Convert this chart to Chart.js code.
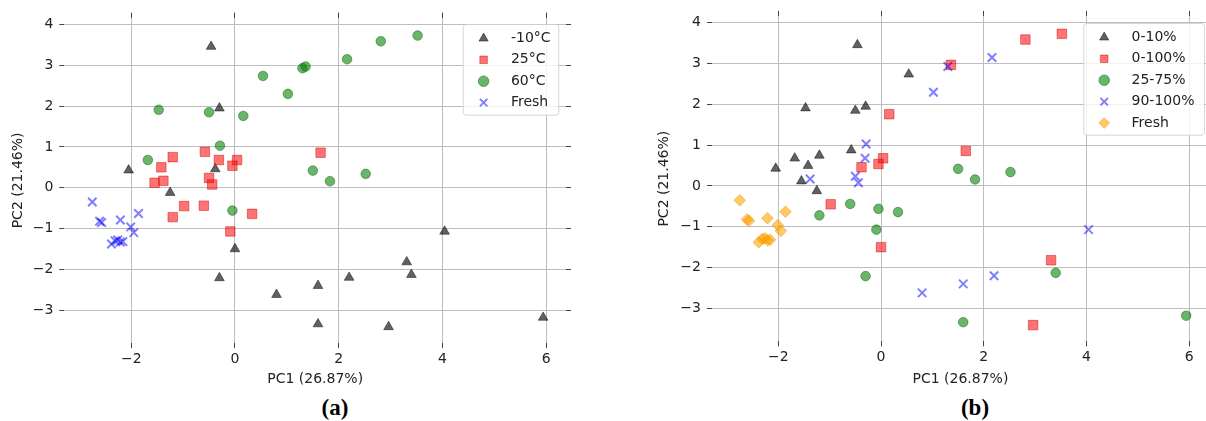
<!DOCTYPE html>
<html>
<head>
<meta charset="utf-8">
<script src="https://cdn.jsdelivr.net/npm/chart.js@4.4.1/dist/chart.umd.min.js"></script>
<style>
  html, body { margin: 0; padding: 0; background: #fff; }
  body { width: 1206px; height: 421px; position: relative; overflow: hidden; }
  .panel { position: absolute; top: 0; width: 600px; height: 395px; }
  .caption { position: absolute; top: 395px; width: 80px; text-align: center; font: bold 23px "Liberation Serif", serif; color: #000; }
</style>
</head>
<body>
<div class="panel" style="left:0"><canvas id="chartA" width="600" height="395"></canvas></div>
<div class="panel" style="left:646px"><canvas id="chartB" width="600" height="395"></canvas></div>
<div class="caption" style="left:295px">(a)</div>
<div class="caption" style="left:935px">(b)</div>
<script>
// PCA scores of the 60 samples (same points in both panels)
const pc1 = [
  -0.46, -0.30, -2.05, -0.38, -1.25, 0.00, -0.30, 0.80, 4.04, 3.31, 3.40, 2.20, 1.60, 1.60, 2.96, 5.94,
  -1.20, -1.42, -0.58, -0.31, 0.04, -0.05, -0.50, -0.44, -1.55, -1.38, 1.65, -1.20, -0.98, -0.60, -0.09, 0.33,
  0.54, 1.02, -1.47, -0.50, 0.16, -0.29, -1.68, 3.52, 2.81, 2.16, 1.30, 1.36, 1.50, 1.83, 2.52, -0.05,
  -2.75, -2.61, -2.57, -2.21, -1.86, -2.01, -1.95, -2.38, -2.31, -2.26, -2.21, -2.16
];
const pc2 = [
  3.46, 1.95, 0.43, 0.46, -0.12, -1.50, -2.21, -2.62, -1.07, -1.82, -2.13, -2.20, -2.40, -3.34, -3.41, -3.18,
  0.75, 0.50, 0.88, 0.68, 0.68, 0.54, 0.24, 0.08, 0.12, 0.17, 0.86, -0.72, -0.45, -0.44, -1.07, -0.64,
  2.74, 2.30, 1.91, 1.85, 1.76, 1.03, 0.68, 3.73, 3.59, 3.15, 2.93, 2.97, 0.42, 0.16, 0.34, -0.56,
  -0.35, -0.82, -0.85, -0.79, -0.63, -0.96, -1.10, -1.38, -1.30, -1.28, -1.33, -1.32
];
// group of each sample: panel (a) storage temperature, panel (b) humidity range
const tempGroup = [
  0, 0, 0, 0, 0, 0, 0, 0, 0, 0, 0, 0, 0, 0, 0, 0,
  1, 1, 1, 1, 1, 1, 1, 1, 1, 1, 1, 1, 1, 1, 1, 1,
  2, 2, 2, 2, 2, 2, 2, 2, 2, 2, 2, 2, 2, 2, 2, 2,
  3, 3, 3, 3, 3, 3, 3, 3, 3, 3, 3, 3
];
const humidityGroup = [
  0, 0, 0, 1, 0, 1, 2, 3, 3, 1, 2, 3, 3, 2, 1, 2,
  0, 0, 0, 3, 1, 1, 3, 3, 0, 3, 1, 2, 1, 2, 2, 2,
  0, 3, 0, 0, 1, 3, 0, 1, 1, 3, 3, 1, 2, 2, 2, 2,
  4, 4, 4, 4, 4, 4, 4, 4, 4, 4, 4, 4
];
const tempLabels = ['-10°C', '25°C', '60°C', 'Fresh'];
const humidityLabels = ['0-10%', '0-100%', '25-75%', '90-100%', 'Fresh'];
const xTicks = [-2, 0, 2, 4, 6];
const yTicks = [-3, -2, -1, 0, 1, 2, 3, 4];
const xRange = [-3.29, 6.38];
const yRange = [-3.81, 4.17];

const font = { family: 'DejaVu Sans', size: 14 };
Chart.defaults.font.family = 'DejaVu Sans';

const markers = {
  triangle: { pointStyle: 'triangle', pointRadius: 5.6, backgroundColor: 'rgba(0,0,0,0.62)', borderColor: 'rgba(0,0,0,0.45)', borderWidth: 1 },
  square: { pointStyle: 'rect', pointRadius: 6.7, backgroundColor: 'rgba(255,0,0,0.55)', borderColor: 'rgba(200,0,0,0.45)', borderWidth: 1 },
  circle: { pointStyle: 'circle', pointRadius: 4.8, backgroundColor: 'rgba(0,128,0,0.58)', borderColor: 'rgba(0,90,0,0.45)', borderWidth: 1 },
  cross: { pointStyle: 'crossRot', pointRadius: 6, backgroundColor: 'rgba(0,0,255,0.5)', borderColor: 'rgba(0,0,255,0.5)', borderWidth: 2 },
  diamond: { pointStyle: 'rectRot', pointRadius: 5.8, backgroundColor: 'rgba(255,165,0,0.6)', borderColor: 'rgba(230,140,0,0.45)', borderWidth: 1 }
};

const tickLabel = v => (v < 0 ? '\u2212' + Math.abs(v) : String(v));

// move the legend inside the axes and give it a matplotlib-like frame
const legendFrame = {
  id: 'legendFrame',
  afterLayout(chart, args, opts) {
    const lg = chart.legend;
    lg.left = opts.x + 6.5;
    lg.top = opts.y;
    lg.right = opts.x + opts.w;
    lg.bottom = opts.y + 200;
    if (!lg._framed) {
      const draw = lg.draw.bind(lg);
      lg.draw = function () {
        const f = chart.options.plugins.legendFrame;
        const ctx = chart.ctx;
        ctx.save();
        ctx.beginPath();
        ctx.roundRect(f.x + 0.5, f.y + 0.5, f.w, f.h, 3);
        ctx.fillStyle = 'rgba(255,255,255,0.8)';
        ctx.fill();
        ctx.strokeStyle = 'rgba(204,204,204,0.8)';
        ctx.lineWidth = 1;
        ctx.stroke();
        ctx.restore();
        draw();
      };
      lg._framed = true;
    }
  }
};

function buildDatasets(groupOf, labels, styles) {
  return labels.map((label, g) => ({
    label,
    data: pc1.map((x, i) => ({ x, y: pc2[i] })).filter((p, i) => groupOf[i] === g),
    order: labels.length - g,
    xAxisID: 'x',
    yAxisID: 'y',
    ...styles[g]
  }));
}

function axis(pos, values, range, size, main, extra) {
  const horizontal = pos === 'top' || pos === 'bottom';
  return {
    type: 'linear',
    position: pos,
    min: range[0],
    max: range[1],
    afterBuildTicks: s => { s.ticks = values.map(v => ({ value: v })); },
    afterFit: s => { if (horizontal) s.height = size; else s.width = size; },
    border: { display: false },
    grid: { drawOnChartArea: main, color: '#bdbdbd', lineWidth: 1, tickColor: '#444', tickLength: 5, tickWidth: 1 },
    ticks: { display: main, font, color: '#222', padding: horizontal ? 3 : 6, callback: tickLabel },
    ...extra
  };
}

function makeChart(id, groupOf, labels, styles, g) {
  new Chart(document.getElementById(id), {
    type: 'scatter',
    data: { datasets: buildDatasets(groupOf, labels, styles) },
    plugins: [legendFrame],
    options: {
      responsive: false,
      animation: false,
      layout: { padding: 0 },
      scales: {
        x: axis('bottom', xTicks, xRange, g.bottom, true, {
          title: { display: true, text: 'PC1 (26.87%)', font, color: '#222', padding: { top: 0, bottom: 7.6 } }
        }),
        y: axis('left', yTicks, yRange, g.left, true, {
          title: { display: true, text: 'PC2 (21.46%)', font, color: '#222', padding: { top: 9.6, bottom: 0 } }
        }),
        x2: axis('top', xTicks, xRange, g.top, false),
        y2: axis('right', yTicks, yRange, g.right, false)
      },
      plugins: {
        tooltip: { enabled: false },
        legendFrame: g.legend,
        legend: {
          position: 'chartArea',
          align: 'start',
          labels: {
            usePointStyle: true,
            boxWidth: 14,
            boxHeight: 7.5,
            padding: 7.4,
            font,
            color: '#222',
            sort: (a, b) => a.datasetIndex - b.datasetIndex,
            generateLabels: chart => Chart.defaults.plugins.legend.labels.generateLabels(chart)
              .map(item => ({ ...item, text: '   ' + item.text }))
          }
        }
      }
    }
  });
}

makeChart('chartA', tempGroup, tempLabels,
  [markers.triangle, markers.square, markers.circle, markers.cross],
  { left: 64.3, right: 34, top: 17.6, bottom: 51.8, legend: { x: 462.7, y: 24, w: 95.6, h: 90.7 } });

makeChart('chartB', humidityGroup, humidityLabels,
  [markers.triangle, markers.square, markers.circle, markers.cross, markers.diamond],
  { left: 66, right: 37.2, top: 15.9, bottom: 53.6, legend: { x: 437.3, y: 23, w: 120.7, h: 111.7 } });
</script>
</body>
</html>
